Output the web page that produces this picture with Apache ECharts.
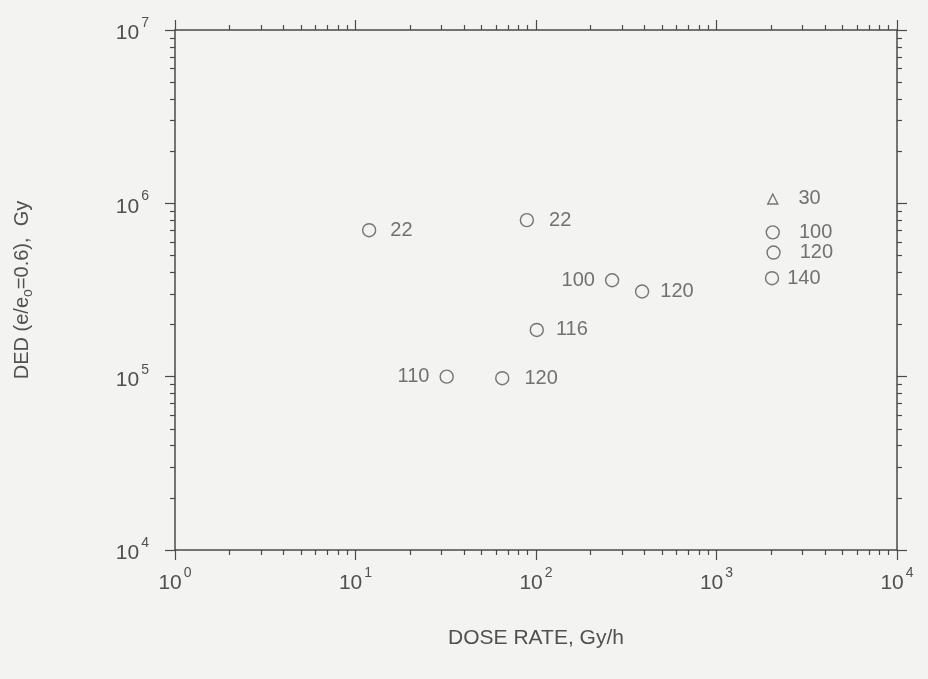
<!DOCTYPE html>
<html>
<head>
<meta charset="utf-8">
<script src="https://cdn.jsdelivr.net/npm/echarts@6/dist/echarts.min.js"></script>
<style>
html,body{margin:0;padding:0;background:#f3f3f1;}
#chart{width:928px;height:679px;}
</style>
</head>
<body>
<div id="chart"></div>
<script>
// ---- data ----
var doseRate = [11.9, 89, 264, 387, 101, 32, 65, 2050, 2050, 2070, 2030];
var ded      = [7.0e5, 8.0e5, 3.6e5, 3.1e5, 1.86e5, 1.0e5, 9.8e4, 1.06e6, 6.8e5, 5.2e5, 3.7e5];
var pointLabels = ['22', '22', '100', '120', '116', '110', '120', '30', '100', '120', '140'];
var markerKind  = ['circle','circle','circle','circle','circle','circle','circle','triangle','circle','circle','circle'];
var leftLabelIndex = [2, 5];
var xDecades = [1, 10, 100, 1000, 10000];
var yDecades = [1e4, 1e5, 1e6, 1e7];
var minorMultipliers = [2, 3, 4, 5, 6, 7, 8, 9];
var xTitle = 'DOSE RATE, Gy/h';

// label gap styling (pixels), separate from data
var labelGap = [14, 15, 10, 11, 12, 10, 15, 20, 19, 19, 8];

function minors(decs) {
  var out = [];
  for (var i = 0; i < decs.length - 1; i++) {
    for (var j = 0; j < minorMultipliers.length; j++) out.push(decs[i] * minorMultipliers[j]);
  }
  return out;
}
var xMinor = minors(xDecades);
var yMinor = minors(yDecades);

var ink = '#4a4a4a';
var txt = '#505050';
var fontFam = '"Liberation Sans", Arial, sans-serif';
var powRich = {
  b: {fontSize: 21, color: txt, fontFamily: fontFam, padding: [7, 0, 0, 0]},
  s: {fontSize: 14, color: txt, fontFamily: fontFam, verticalAlign: 'top', padding: [0, 0, 8, 2]}
};
function powFmt(v) {
  var e = Math.round(Math.log10(v));
  return '{b|10}{s|' + e + '}';
}

function xAx(pos, ticks, len, showLine, showLabel) {
  return {
    type: 'log', logBase: 10, min: 1, max: 10000, position: pos,
    axisLine: {show: showLine, lineStyle: {color: ink, width: 1.5}},
    axisTick: {show: true, inside: false, length: len, customValues: ticks, lineStyle: {color: ink, width: 1.2}},
    axisLabel: {show: showLabel, customValues: xDecades, formatter: powFmt, rich: powRich, margin: 16},
    splitLine: {show: false}
  };
}
function yAx(pos, ticks, len, showLine, showLabel) {
  return {
    type: 'log', logBase: 10, min: 1e4, max: 1e7, position: pos,
    axisLine: {show: showLine, lineStyle: {color: ink, width: 1.5}},
    axisTick: {show: true, inside: false, length: len, customValues: ticks, lineStyle: {color: ink, width: 1.2}},
    axisLabel: {show: showLabel, customValues: yDecades, formatter: powFmt, rich: powRich, margin: 26},
    splitLine: {show: false}
  };
}

var xAxes = [
  xAx('bottom', xDecades, 10, true, true),
  xAx('bottom', xMinor, 5, false, false),
  xAx('top', xDecades, 10, true, false),
  xAx('top', xMinor, 5, false, false)
];
xAxes[0].name = xTitle;
xAxes[0].nameLocation = 'middle';
xAxes[0].nameGap = 78;
xAxes[0].nameTextStyle = {fontSize: 21, color: txt, fontFamily: fontFam};

var yAxes = [
  yAx('left', yDecades, 10, true, true),
  yAx('left', yMinor, 5, false, false),
  yAx('right', yDecades, 10, true, false),
  yAx('right', yMinor, 5, false, false)
];
yAxes[0].name = '{t|DED (e/e}{sub|o}{t|=0.6),  Gy}';
yAxes[0].nameLocation = 'middle';
yAxes[0].nameGap = 140;
yAxes[0].nameRotate = 90;
yAxes[0].nameTextStyle = {
  rich: {
    t: {fontSize: 20, color: txt, fontFamily: fontFam},
    sub: {fontSize: 14, color: txt, fontFamily: fontFam, verticalAlign: 'bottom', padding: [11, 0, 0, 0]}
  }
};

var pts = doseRate.map(function (x, i) {
  var left = leftLabelIndex.indexOf(i) >= 0;
  var tri = markerKind[i] === 'triangle';
  return {
    value: [x, ded[i]],
    symbol: tri ? 'triangle' : 'circle',
    symbolSize: tri ? 10 : 13,
    label: {
      show: true, formatter: pointLabels[i],
      position: left ? 'left' : 'right',
      distance: labelGap[i],
      fontSize: 20, color: txt, fontFamily: fontFam
    }
  };
});

var chart = echarts.init(document.getElementById('chart'), null, {renderer: 'canvas'});
chart.setOption({
  backgroundColor: '#f3f3f1',
  animation: false,
  grid: {left: 175, right: 31, top: 30, bottom: 129, containLabel: false},
  xAxis: xAxes,
  yAxis: yAxes,
  series: [{
    type: 'scatter',
    xAxisIndex: 0, yAxisIndex: 0,
    data: pts,
    itemStyle: {color: '#f3f3f1', borderColor: '#555', borderWidth: 1.4},
    emphasis: {disabled: true}
  }]
});
</script>
</body>
</html>
